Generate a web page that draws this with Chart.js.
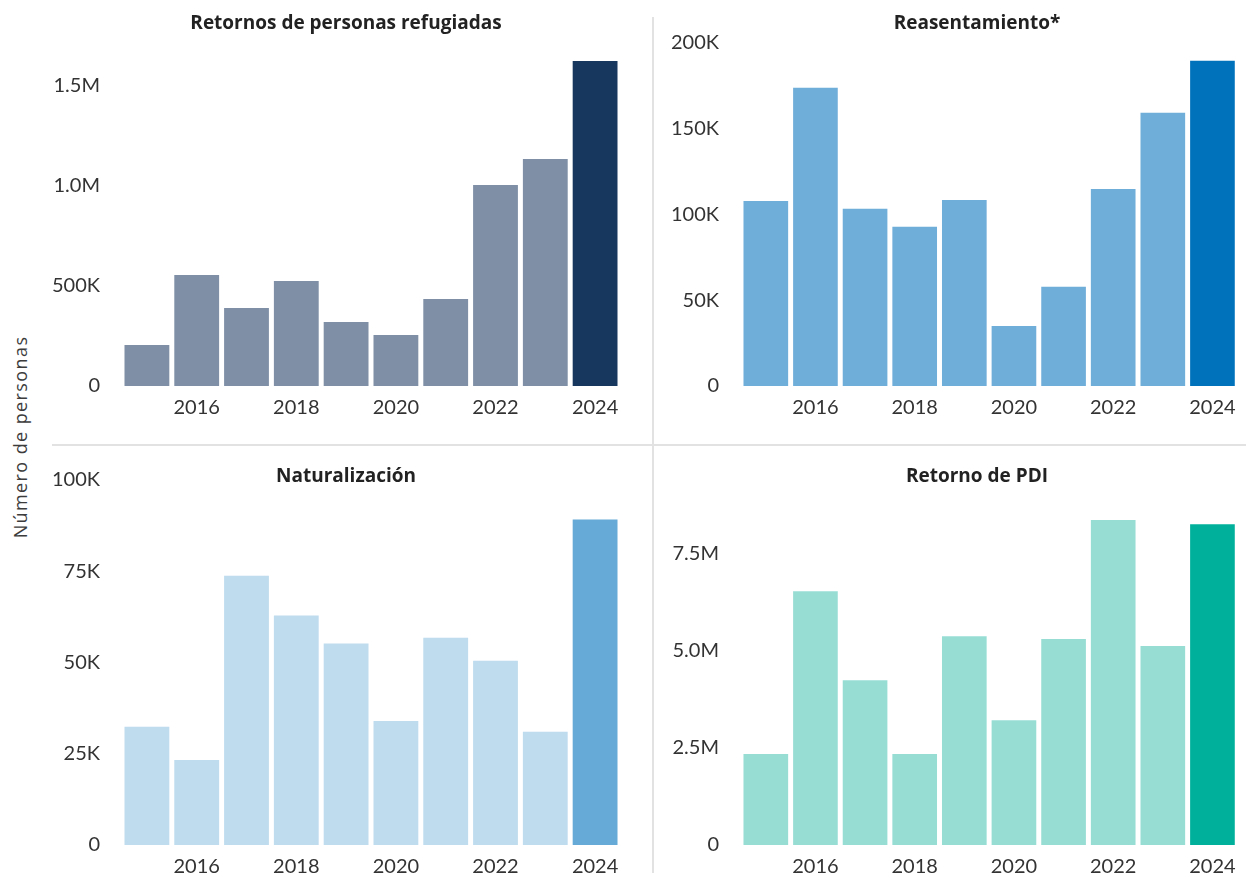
<!DOCTYPE html>
<html>
<head>
<meta charset="utf-8">
<script src="https://cdn.jsdelivr.net/npm/chart.js@4.4.1/dist/chart.umd.min.js"></script>
<style>
html,body{margin:0;padding:0;background:#fff;width:1246px;height:873px;overflow:hidden;font-family:Lato,"Open Sans",sans-serif}
canvas{position:absolute}
.title{position:absolute;font-family:"Open Sans",sans-serif;font-weight:bold;font-size:19px;color:#222;transform:translate(-50%,-50%);white-space:nowrap;line-height:22px}
.sep{position:absolute;background:#e2e2e2}
.ytitle{position:absolute;left:20px;top:437px;transform:translate(-50%,-50%) rotate(-90deg);font-family:"Open Sans",sans-serif;font-size:18px;letter-spacing:1.4px;color:#3c3c3c;white-space:nowrap}
</style>
</head>
<body>
<div class="sep" style="left:652px;top:17px;width:2px;height:856px"></div>
<div class="sep" style="left:52px;top:444px;width:1194px;height:2px"></div>
<div class="ytitle">Número de personas</div>

<canvas id="c1" width="640" height="410" style="left:0;top:20px"></canvas>
<canvas id="c2" width="586" height="410" style="left:660px;top:20px"></canvas>
<canvas id="c3" width="640" height="418" style="left:0;top:455px"></canvas>
<canvas id="c4" width="586" height="418" style="left:660px;top:455px"></canvas>

<div class="title" style="left:346px;top:22px">Retornos de personas refugiadas</div>
<div class="title" style="left:977px;top:22px">Reasentamiento*</div>
<div class="title" style="left:346px;top:475px">Naturalización</div>
<div class="title" style="left:977px;top:475px">Retorno de PDI</div>

<script>
// ---- Data ----
const years = [2015, 2016, 2017, 2018, 2019, 2020, 2021, 2022, 2023, 2024];
const xTickLabels = ['2016', '2018', '2020', '2022', '2024'];

const refugeeReturns = [205000, 555000, 390000, 525000, 320000, 255000, 435000, 1005000, 1135000, 1625000];
const resettlement   = [107900, 173900, 103300, 92800, 108500, 35000, 57800, 114900, 159300, 189600];
const naturalization = [32400, 23300, 73800, 62900, 55200, 34000, 56800, 50500, 31000, 89200];
const idpReturns     = [2340000, 6530000, 4240000, 2340000, 5370000, 3210000, 5300000, 8360000, 5120000, 8250000];

const yTicks1 = [0, 500000, 1000000, 1500000];
const yTicks2 = [0, 50000, 100000, 150000, 200000];
const yTicks3 = [0, 25000, 50000, 75000, 100000];
const yTicks4 = [0, 2500000, 5000000, 7500000];

function fmt(v) {
  if (v === 0) return '0';
  if (v >= 1e6) return (v / 1e6).toFixed(1) + 'M';
  return Math.round(v / 1e3) + 'K';
}

function makeChart(id, values, light, dark, yTicks, yMax, box) {
  new Chart(document.getElementById(id), {
    type: 'bar',
    data: {
      labels: years.map(String),
      datasets: [{
        data: values,
        backgroundColor: values.map((v, i) => i === values.length - 1 ? dark : light),
        borderWidth: 0,
        barPercentage: 0.9,
        categoryPercentage: 1
      }]
    },
    options: {
      responsive: false,
      animation: false,
      events: [],
      layout: { padding: { top: box.pt, right: box.pr, bottom: box.pb, left: 0 } },
      plugins: { legend: { display: false }, tooltip: { enabled: false }, title: { display: false } },
      scales: {
        x: {
          grid: { display: false, drawTicks: false },
          border: { display: false },
          ticks: {
            autoSkip: false, maxRotation: 0, padding: 10, color: '#333',
            font: { family: 'Lato', size: 20 },
            callback: (v, i) => xTickLabels.includes(String(years[i])) ? String(years[i]) : ''
          },
          afterFit: s => { s.height = 28; }
        },
        y: {
          min: 0, max: yMax,
          grid: { display: false, drawTicks: true, tickLength: 22 },
          border: { display: false },
          ticks: {
            autoSkip: false, padding: 0, color: '#333',
            font: { family: 'Lato', size: 20 },
            callback: v => fmt(v)
          },
          afterBuildTicks: s => { s.ticks = yTicks.map(v => ({ value: v })); },
          afterFit: s => { s.width = box.yw; }
        }
      }
    }
  });
}

makeChart('c1', refugeeReturns, '#7F8FA6', '#18375F', yTicks1, Math.max(...refugeeReturns), { pt: 41, pr: 20, pb: 16, yw: 122 });
makeChart('c2', resettlement,   '#70AEDA', '#0072BC', yTicks2, yTicks2[yTicks2.length - 1], { pt: 23, pr: 7, pb: 16, yw: 81 });
makeChart('c3', naturalization, '#BFDCEE', '#66AAD7', yTicks3, yTicks3[yTicks3.length - 1], { pt: 25, pr: 20, pb: 0, yw: 122 });
makeChart('c4', idpReturns,     '#97DDD4', '#00B09B', yTicks4, Math.max(...idpReturns), { pt: 65, pr: 7, pb: 0, yw: 81 });
</script>
</body>
</html>
